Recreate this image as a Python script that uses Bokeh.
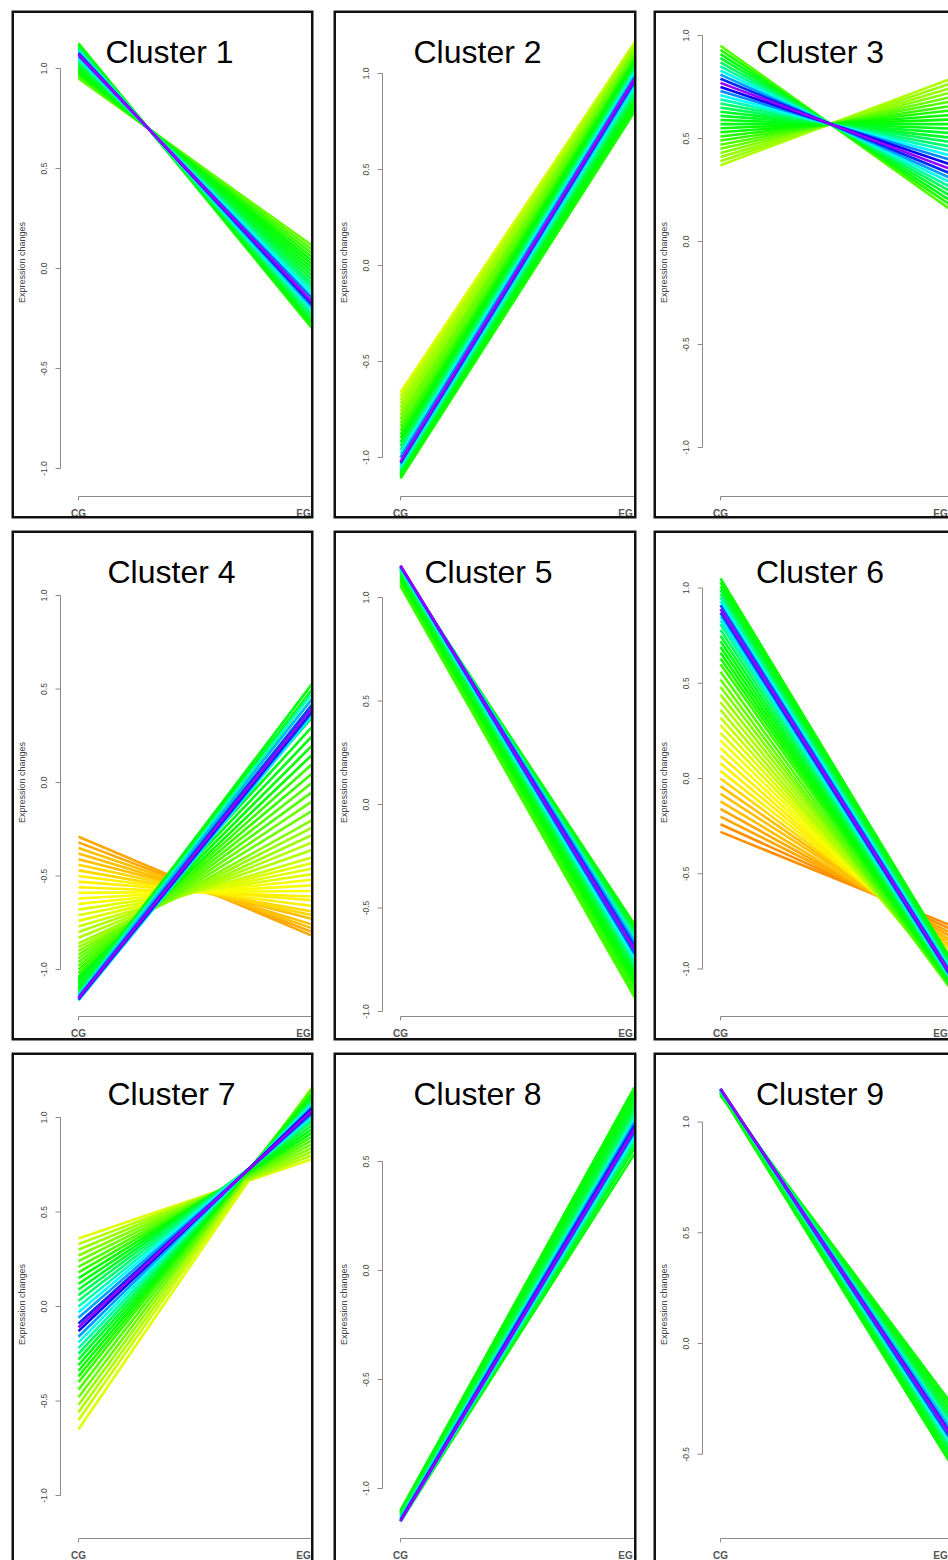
import math
from bokeh.plotting import figure
from bokeh.models import ColumnDataSource, Range1d
from bokeh.layouts import column, row
from bokeh.transform import linear_cmap
from bokeh.core.properties import value
from bokeh.embed import file_html
from bokeh.resources import INLINE

# ---------------- data ----------------
conditions = ["CG", "EG"]
cluster_names = ["Cluster 1", "Cluster 2", "Cluster 3", "Cluster 4", "Cluster 5",
                 "Cluster 6", "Cluster 7", "Cluster 8", "Cluster 9"]
y_axis_title = "Expression changes"
full_ticks = [1.0, 0.5, 0.0, -0.5, -1.0]
tick_values = [full_ticks] * 7 + [[0.5, 0.0, -0.5, -1.0], [1.0, 0.5, 0.0, -0.5]]

# Mfuzz default membership colour ramp
mfuzz_colours = ["#FF8F00", "#FFA700", "#FFBF00", "#FFD700", "#FFEF00", "#F7FF00", "#DFFF00",
                 "#C7FF00", "#AFFF00", "#97FF00", "#80FF00", "#68FF00", "#50FF00", "#38FF00",
                 "#20FF00", "#08FF00", "#00FF10", "#00FF28", "#00FF40", "#00FF58", "#00FF70",
                 "#00FF87", "#00FF9F", "#00FFB7", "#00FFCF", "#00FFE7", "#00FFFF", "#00E7FF",
                 "#00CFFF", "#00B7FF", "#009FFF", "#0087FF", "#0070FF", "#0058FF", "#0040FF",
                 "#0028FF", "#0010FF", "#0800FF", "#2000FF", "#3800FF", "#5000FF", "#6800FF",
                 "#8000FF", "#9700FF", "#AF00FF", "#C700FF", "#DF00FF", "#F700FF", "#FF00EF",
                 "#FF00D7", "#FF00BF", "#FF00A7", "#FF008F", "#FF0078", "#FF0060", "#FF0048",
                 "#FF0030", "#FF0018"]

c1_cg = [0.950, 0.958, 0.966, 0.974, 0.982, 0.990, 0.998, 1.006, 1.014, 1.022, 1.030, 1.038,
         1.046, 1.054, 1.062, 1.070, 1.076, 1.082, 1.090, 1.098, 1.106, 1.114, 1.120, 1.126]
c1_eg = [0.113, 0.094, 0.075, 0.056, 0.037, 0.019, 0.000, -0.019, -0.038, -0.057, -0.076, -0.094,
         -0.113, -0.132, -0.151, -0.170, -0.184, -0.198, -0.217, -0.235, -0.254, -0.273, -0.287, -0.301]
c1_mem = [0.20, 0.22, 0.24, 0.25, 0.26, 0.27, 0.28, 0.29, 0.30, 0.31, 0.33, 0.36,
          0.40, 0.46, 0.56, 0.75, 0.62, 0.50, 0.42, 0.36, 0.32, 0.29, 0.27, 0.25]

c2_cg = [-0.66, -0.68, -0.70, -0.72, -0.74, -0.76, -0.78, -0.80, -0.82, -0.84, -0.86, -0.88, -0.90, -0.92,
         -0.94, -0.96, -0.98, -1.00, -1.02, -1.03, -1.04, -1.05, -1.06, -1.07, -1.08, -1.09, -1.10, -1.11]
c2_eg = [1.16, 1.155, 1.15, 1.145, 1.14, 1.13, 1.12, 1.11, 1.10, 1.09, 1.08, 1.07, 1.06, 1.045,
         1.03, 1.015, 1.00, 0.985, 0.97, 0.955, 0.94, 0.92, 0.90, 0.88, 0.86, 0.84, 0.82, 0.80]
c2_mem = [0.12, 0.13, 0.14, 0.15, 0.16, 0.17, 0.18, 0.19, 0.20, 0.21, 0.23, 0.25, 0.27, 0.29,
          0.32, 0.37, 0.44, 0.55, 0.75, 0.60, 0.48, 0.40, 0.35, 0.31, 0.29, 0.27, 0.26, 0.25]

c3_cg = [0.95, 0.93, 0.91, 0.89, 0.87, 0.85, 0.83, 0.81, 0.79, 0.77, 0.75, 0.73, 0.71, 0.69, 0.67,
         0.65, 0.63, 0.61, 0.59, 0.57, 0.55, 0.53, 0.51, 0.49, 0.47, 0.45, 0.43, 0.41, 0.39, 0.37]
c3_eg = [0.141, 0.164, 0.186, 0.209, 0.232, 0.254, 0.277, 0.299, 0.322, 0.344, 0.367, 0.390, 0.412,
         0.435, 0.457, 0.480, 0.502, 0.525, 0.547, 0.570, 0.593, 0.615, 0.638, 0.660, 0.683, 0.705,
         0.728, 0.750, 0.773, 0.796]
c3_mem = [0.22, 0.25, 0.28, 0.31, 0.34, 0.38, 0.44, 0.52, 0.62, 0.75, 0.64, 0.54, 0.46, 0.40, 0.36,
          0.33, 0.31, 0.30, 0.29, 0.28, 0.27, 0.26, 0.25, 0.24, 0.22, 0.20, 0.18, 0.17, 0.16, 0.15]

c4_cg = [-0.29, -0.32, -0.35, -0.38, -0.41, -0.44, -0.47, -0.50, -0.53, -0.56, -0.59, -0.62, -0.65,
         -0.68, -0.71, -0.74, -0.77, -0.80, -0.83, -0.86, -0.88, -0.90, -0.92, -0.94, -0.96, -0.98,
         -1.00, -1.02, -1.04, -1.05, -1.06, -1.07, -1.08, -1.09, -1.10, -1.11, -1.12, -1.13, -1.14,
         -1.15, -1.155, -1.16, -1.165]
c4_eg = [-0.82, -0.80, -0.78, -0.76, -0.73, -0.71, -0.69, -0.66, -0.63, -0.61, -0.58, -0.55, -0.52,
         -0.49, -0.46, -0.43, -0.40, -0.36, -0.32, -0.28, -0.24, -0.20, -0.15, -0.10, -0.05, 0.00,
         0.05, 0.10, 0.15, 0.20, 0.25, 0.30, 0.35, 0.40, 0.45, 0.50, 0.53, 0.48, 0.45,
         0.42, 0.40, 0.38, 0.36]
c4_mem = [0.02, 0.03, 0.04, 0.04, 0.05, 0.06, 0.06, 0.07, 0.08, 0.08, 0.09, 0.10, 0.10,
          0.11, 0.12, 0.12, 0.13, 0.14, 0.15, 0.16, 0.17, 0.18, 0.19, 0.20, 0.21, 0.22,
          0.23, 0.24, 0.26, 0.27, 0.28, 0.29, 0.30, 0.31, 0.30, 0.29, 0.28, 0.40, 0.50,
          0.60, 0.75, 0.62, 0.48]

c5_cg = [1.130, 1.135, 1.140, 1.145, 1.148, 1.152, 1.155, 1.150, 1.145, 1.140, 1.130, 1.120, 1.110,
         1.100, 1.090, 1.080, 1.070, 1.060, 1.055]
c5_eg = [-0.58, -0.60, -0.62, -0.64, -0.66, -0.68, -0.70, -0.72, -0.74, -0.76, -0.78, -0.80, -0.82,
         -0.84, -0.86, -0.88, -0.90, -0.92, -0.93]
c5_mem = [0.27, 0.29, 0.33, 0.40, 0.50, 0.60, 0.75, 0.58, 0.46, 0.38, 0.33, 0.30, 0.28,
          0.27, 0.26, 0.25, 0.24, 0.23, 0.22]

c6_cg = [1.05, 1.03, 1.01, 0.99, 0.97, 0.95, 0.93, 0.91, 0.89, 0.87, 0.85, 0.83, 0.81, 0.78, 0.75,
         0.72, 0.69, 0.66, 0.63, 0.60, 0.56, 0.52, 0.48, 0.44, 0.40, 0.36, 0.32, 0.28, 0.24, 0.20,
         0.16, 0.12, 0.08, 0.04, 0.00, -0.04, -0.08, -0.12, -0.16, -0.20, -0.24, -0.28]
c6_eg = [-0.98, -0.99, -1.00, -1.01, -1.02, -1.03, -1.04, -1.05, -1.06, -1.07, -1.075, -1.08, -1.085,
         -1.09, -1.10, -1.105, -1.11, -1.115, -1.12, -1.125, -1.13, -1.13, -1.12, -1.11, -1.10,
         -1.09, -1.07, -1.05, -1.03, -1.01, -0.99, -0.97, -0.95, -0.93, -0.91, -0.89, -0.87,
         -0.86, -0.84, -0.82, -0.80, -0.78]
c6_mem = [0.26, 0.27, 0.28, 0.30, 0.33, 0.38, 0.46, 0.58, 0.75, 0.60, 0.48, 0.42, 0.37, 0.33, 0.30,
          0.28, 0.27, 0.26, 0.25, 0.24, 0.22, 0.20, 0.18, 0.16, 0.15, 0.14, 0.13, 0.12, 0.11, 0.10,
          0.09, 0.08, 0.07, 0.07, 0.06, 0.05, 0.05, 0.04, 0.03, 0.02, 0.01, 0.00]

c7_cg = [0.36, 0.33, 0.30, 0.27, 0.24, 0.21, 0.18, 0.15, 0.12, 0.09, 0.06, 0.03, 0.00, -0.03, -0.06,
         -0.09, -0.11, -0.13, -0.16, -0.19, -0.22, -0.25, -0.28, -0.31, -0.34, -0.37, -0.40, -0.44,
         -0.48, -0.52, -0.56, -0.60, -0.65]
c7_eg = [0.78, 0.80, 0.82, 0.84, 0.86, 0.88, 0.90, 0.92, 0.94, 0.96, 0.98, 0.99, 1.00, 1.01, 1.02,
         1.03, 1.04, 1.05, 1.06, 1.07, 1.08, 1.09, 1.10, 1.11, 1.12, 1.13, 1.14, 1.15, 1.155, 1.16,
         1.16, 1.16, 1.16]
c7_mem = [0.12, 0.14, 0.16, 0.18, 0.20, 0.22, 0.24, 0.26, 0.28, 0.30, 0.33, 0.36, 0.40, 0.45, 0.52,
          0.62, 0.75, 0.64, 0.52, 0.44, 0.38, 0.34, 0.31, 0.29, 0.27, 0.25, 0.23, 0.21, 0.19, 0.17,
          0.15, 0.13, 0.12]

c8_cg = [-1.100, -1.105, -1.110, -1.115, -1.120, -1.125, -1.130, -1.135, -1.140, -1.145, -1.150,
         -1.150, -1.150, -1.150, -1.150, -1.150, -1.150]
c8_eg = [0.84, 0.82, 0.80, 0.78, 0.76, 0.74, 0.72, 0.70, 0.68, 0.665, 0.65, 0.635, 0.62, 0.60, 0.58,
         0.56, 0.535]
c8_mem = [0.26, 0.27, 0.28, 0.29, 0.30, 0.32, 0.36, 0.42, 0.52, 0.62, 0.75, 0.58, 0.46, 0.38, 0.32,
          0.29, 0.27]

c9_cg = [1.120, 1.125, 1.130, 1.135, 1.140, 1.142, 1.145, 1.148, 1.150, 1.150, 1.150, 1.148, 1.145,
         1.140, 1.135, 1.130]
c9_eg = [-0.29, -0.31, -0.33, -0.35, -0.37, -0.39, -0.41, -0.43, -0.44, -0.46, -0.48, -0.50, -0.52,
         -0.54, -0.56, -0.57]
c9_mem = [0.26, 0.27, 0.29, 0.31, 0.34, 0.40, 0.50, 0.62, 0.75, 0.58, 0.44, 0.36, 0.31, 0.28, 0.27,
          0.26]

clusters = [(c1_cg, c1_eg, c1_mem), (c2_cg, c2_eg, c2_mem), (c3_cg, c3_eg, c3_mem),
            (c4_cg, c4_eg, c4_mem), (c5_cg, c5_eg, c5_mem), (c6_cg, c6_eg, c6_mem),
            (c7_cg, c7_eg, c7_mem), (c8_cg, c8_eg, c8_mem), (c9_cg, c9_eg, c9_mem)]

# ---------------- layout / style ----------------
PX = 234.0            # pixels between CG and EG
CG_OFF = 67           # CG position from panel's left border (px)
col_frame_w = [302, 303, 295]
col_pad_l = [11, 10, 10]
col_pad_r = [10, 7, 0]
row_frame_h = [508, 510, 508]
row_pad_t = [10, 6, 6]
row_pad_b = [6, 6, 0]
zero_off = [258, 255, 231, 252, 274, 248, 254, 218, 291]     # px from panel top to y=0
px_unit = [200, 192, 206, 187, 207, 190.5, 189, 218, 221.5]  # px per expression unit
title_dx = [91, 77, 99.5, 93, 88, 99.5, 93, 77, 99.5]        # title centre, px right of CG
eg_label_dx = [-9, -9, -14]                                  # EG label nudge per column (px)

FONT = value("Liberation Sans")
AXIS_COL = "#8a8a8a"
cond_pos = {c: i for i, c in enumerate(conditions)}
cmap = linear_cmap("m", mfuzz_colours, 0.0, 1.0)


def fmt(v):
    return "%.1f" % v


def make_panel(i):
    r, c = divmod(i, 3)
    fw, fh = col_frame_w[c], row_frame_h[r]
    s, z = px_unit[i], zero_off[i]
    x0, x1 = -CG_OFF / PX, (fw - CG_OFF) / PX
    y1, y0 = z / s, (z - fh) / s
    p = figure(width=fw + col_pad_l[c] + col_pad_r[c], height=fh + row_pad_t[r] + row_pad_b[r],
               x_range=Range1d(x0, x1), y_range=Range1d(y0, y1),
               output_backend="svg", toolbar_location=None,
               x_axis_location=None, y_axis_location=None,
               min_border=0, min_border_left=col_pad_l[c], min_border_right=col_pad_r[c],
               min_border_top=row_pad_t[r], min_border_bottom=row_pad_b[r])
    p.outline_line_color = None
    p.background_fill_color = "white"
    p.border_fill_color = "white"
    p.xgrid.visible = False
    p.ygrid.visible = False

    # expression profiles, low membership drawn first
    cg, eg, mem = clusters[i]
    order = sorted(range(len(mem)), key=lambda k: mem[k])
    src = ColumnDataSource(dict(
        x0=[cond_pos["CG"]] * len(order), y0=[cg[k] for k in order],
        x1=[cond_pos["EG"]] * len(order), y1=[eg[k] for k in order],
        m=[mem[k] for k in order]))
    p.segment(x0="x0", y0="y0", x1="x1", y1="y1", source=src,
              line_color=cmap, line_width=2.6)

    # y axis (R style)
    ticks = tick_values[i]
    ax = -18 / PX
    p.segment(x0=[ax], y0=[min(ticks)], x1=[ax], y1=[max(ticks)], line_color=AXIS_COL, line_width=1)
    p.segment(x0=[ax] * len(ticks), y0=ticks, x1=[ax - 5 / PX] * len(ticks), y1=ticks,
              line_color=AXIS_COL, line_width=1)
    p.text(x=[-35 / PX] * len(ticks), y=ticks, text=[fmt(t) for t in ticks], angle=math.pi / 2,
           text_align="center", text_baseline="middle", text_font=FONT,
           text_font_size="8.5px", text_color="#444444")
    p.text(x=[-57 / PX], y=[(z - 252) / s], text=[y_axis_title], angle=math.pi / 2,
           text_align="center", text_baseline="middle", text_font=FONT,
           text_font_size="9px", text_color="#444444")

    # x axis (R style)
    yx = (z - 486) / s
    xs = [cond_pos[cnd] for cnd in conditions]
    p.segment(x0=[xs[0]], y0=[yx], x1=[xs[-1]], y1=[yx], line_color=AXIS_COL, line_width=1)
    p.segment(x0=xs, y0=[yx] * len(xs), x1=xs, y1=[yx - 4 / s] * len(xs),
              line_color=AXIS_COL, line_width=1)
    p.text(x=xs, y=[yx - 17 / s] * len(xs), text=conditions, x_offset=[0, eg_label_dx[c]],
           text_align="center", text_baseline="middle", text_font=FONT,
           text_font_size="10px", text_font_style="bold", text_color="#555555")

    # title
    p.text(x=[title_dx[i] / PX], y=[(z - 41) / s], text=[cluster_names[i]],
           text_align="center", text_baseline="alphabetic", text_font=FONT,
           text_font_size="32px", text_color="black")

    # panel border (right / bottom pushed out of view where the reference is cropped)
    right = x1 + (1.0 if c == 2 else 0.0)
    bottom = y0 - (1.0 if r == 2 else 0.0)
    p.quad(left=[x0], right=[right], top=[y1], bottom=[bottom], fill_color=None,
           line_color="#111111", line_width=5)
    return p


panels = [make_panel(i) for i in range(9)]
layout = column(row(*panels[0:3]), row(*panels[3:6]), row(*panels[6:9]))

with open("out.html", "w") as f:
    f.write(file_html(layout, INLINE))
